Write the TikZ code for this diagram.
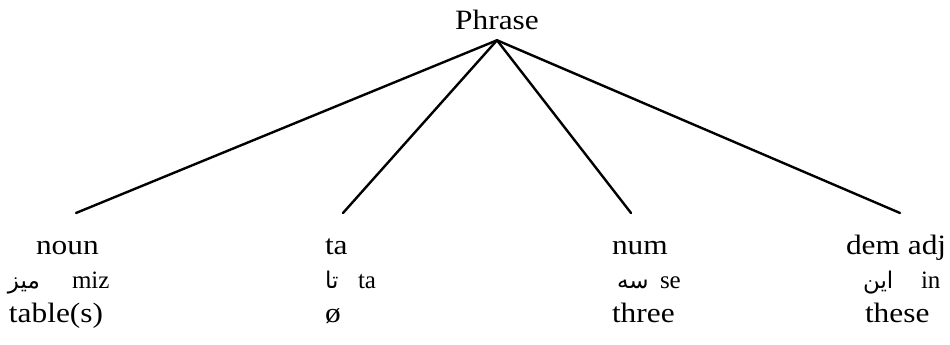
\documentclass[tikz,border=0pt]{standalone}
\usepackage{fontspec}
\setmainfont{Liberation Serif}
\newfontfamily\arabicfont[Script=Arabic]{DejaVu Sans}
\TeXXeTstate=1
\begin{document}
\begin{tikzpicture}[x=1pt,y=1pt,
  category/.style={anchor=base west,inner sep=0pt,outer sep=0pt,font=\fontsize{28}{32}\selectfont,xscale=1.12},
  translit/.style={anchor=base west,inner sep=0pt,outer sep=0pt,font=\fontsize{25}{29}\selectfont},
  arabic/.style={anchor=base west,inner sep=0pt,outer sep=0pt,font=\arabicfont\fontsize{23}{28}\selectfont},
  branch/.style={line width=2.4pt,line cap=round}]
\path[use as bounding box,fill=white] (0,0) rectangle (950,345);

\node[category,anchor=base] (phrase) at (497,315) {Phrase};

\coordinate (noun-end) at ( 76,132);
\coordinate (ta-end)   at (343,132);
\coordinate (num-end)  at (631,132);
\coordinate (dem-end)  at (900,132);

\draw[branch] ([yshift=-10pt]phrase.south) -- (noun-end);
\draw[branch] ([yshift=-10pt]phrase.south) -- (ta-end);
\draw[branch] ([yshift=-10pt]phrase.south) -- (num-end);
\draw[branch] ([yshift=-10pt]phrase.south) -- (dem-end);

% categories
\node[category] (noun) at ( 36,90) {noun};
\node[category] (ta)   at (325,90) {ta};
\node[category] (num)  at (612,90) {num};
\node[category] (dem)  at (846,90) {dem adj};

% persian words and transliteration
\node[arabic]   (noun-ar) at (  8,56) {\beginR ميز\endR};
\node[translit] (noun-tr) at ( 72,56) {miz};
\node[arabic]   (ta-ar)   at (325,56) {\beginR تا\endR};
\node[translit] (ta-tr)   at (358,56) {ta};
\node[arabic]   (num-ar)  at (617,56) {\beginR سه\endR};
\node[translit] (num-tr)  at (660,56) {se};
\node[arabic]   (dem-ar)  at (863,56) {\beginR این\endR};
\node[translit] (dem-tr)  at (921,56) {in};

% glosses
\node[category] (noun-gl) at (  9,22) {table(s)};
\node[category] (ta-gl)   at (325,22) {ø};
\node[category] (num-gl)  at (612,22) {three};
\node[category] (dem-gl)  at (865,22) {these};
\end{tikzpicture}
\end{document}
